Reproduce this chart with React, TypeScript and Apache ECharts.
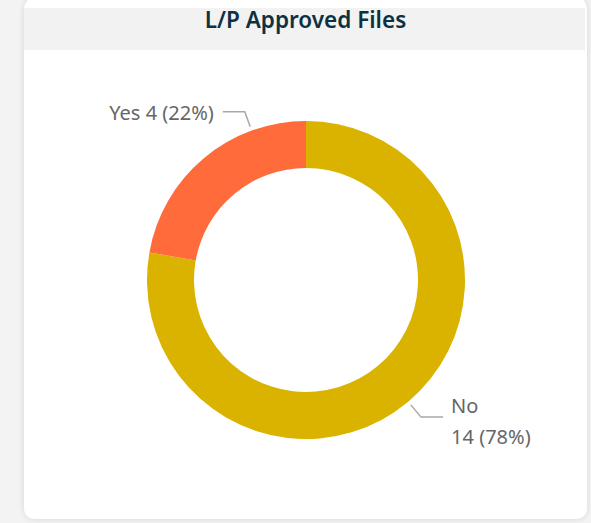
import React, { useEffect, useRef } from "react";
import * as echarts from "echarts";

const chartTitle = "L/P Approved Files";
const categories = ["No", "Yes"];
const values = [14, 4];
const sliceColors = ["#DAB300", "#FF6B3B"];

const FONT = "'Segoe UI', 'Noto Sans', 'Open Sans', sans-serif";

export default function App() {
  const ref = useRef<HTMLDivElement>(null);

  useEffect(() => {
    document.body.style.margin = "0";
    const chart = echarts.init(ref.current!, null, { renderer: "svg" });
    const cx = 282;
    const cy = 280;
    const rIn = 112;
    const rOut = 159;
    const total = values.reduce((a, b) => a + b, 0);
    const polar = (deg: number, r: number) => [
      cx + r * Math.cos((deg * Math.PI) / 180),
      cy - r * Math.sin((deg * Math.PI) / 180),
    ];
    const midAngles: number[] = [];
    let acc = 0;
    values.forEach((v) => {
      const span = (v / total) * 360;
      midAngles.push(90 - acc - span / 2);
      acc += span;
    });
    const angleShift = [0, -20];

    chart.setOption({
      animation: false,
      textStyle: { fontFamily: FONT },
      title: {
        text: chartTitle,
        left: "center",
        top: 8,
        padding: 0,
        textStyle: {
          fontFamily: FONT,
          fontSize: 22.5,
          fontWeight: 600,
          color: "#0E3142",
        },
      },
      series: [
        {
          type: "pie",
          center: [cx, cy],
          radius: [rIn, rOut],
          startAngle: 90,
          clockwise: true,
          avoidLabelOverlap: false,
          data: categories.map((c, i) => ({
            name: c,
            value: values[i],
            itemStyle: { color: sliceColors[i] },
          })),
          label: {
            show: true,
            color: "#666666",
            fontSize: 20,
            lineHeight: 31,
            fontFamily: FONT,
            formatter: (p: any) => {
              const pct = Math.round(p.percent);
              return p.dataIndex === 0
                ? `${p.name}\n${p.value} (${pct}%)`
                : `${p.name} ${p.value} (${pct}%)`;
            },
          },
          labelLine: {
            show: true,
            lineStyle: { color: "#A8A8A8", width: 1.5 },
          },
          labelLayout: (params: any) => {
            const i = params.dataIndex;
            const ang = midAngles[i] + angleShift[i];
            const start = polar(ang, rOut + 4);
            const elbow = polar(ang, rOut + 20);
            const leftSide = elbow[0] < cx;
            const end = [elbow[0] + (leftSide ? -22 : 22), elbow[1]];
            return {
              x: end[0] + (leftSide ? -9 : 8),
              y: end[1] + (leftSide ? 1 : 4),
              align: leftSide ? "right" : "left",
              verticalAlign: "middle",
              labelLinePoints: [start, elbow, end],
            };
          },
        },
      ],
    });
    return () => chart.dispose();
  }, []);

  return (
    <div
      style={{
        position: "fixed",
        left: 0,
        top: 0,
        width: 591,
        height: 523,
        background: "#F3F3F3",
        overflow: "hidden",
      }}
    >
      <div
        style={{
          position: "absolute",
          left: 24,
          top: -2,
          width: 563,
          height: 521,
          background: "#FFFFFF",
          borderRadius: 10,
          boxShadow: "0 0 6px rgba(0,0,0,0.12)",
        }}
      />
      <div
        style={{
          position: "absolute",
          left: 24,
          top: 8,
          width: 561,
          height: 42,
          background: "#F2F2F2",
        }}
      />
      <div
        ref={ref}
        style={{ position: "absolute", left: 24, top: 0, width: 563, height: 519 }}
      />
    </div>
  );
}
